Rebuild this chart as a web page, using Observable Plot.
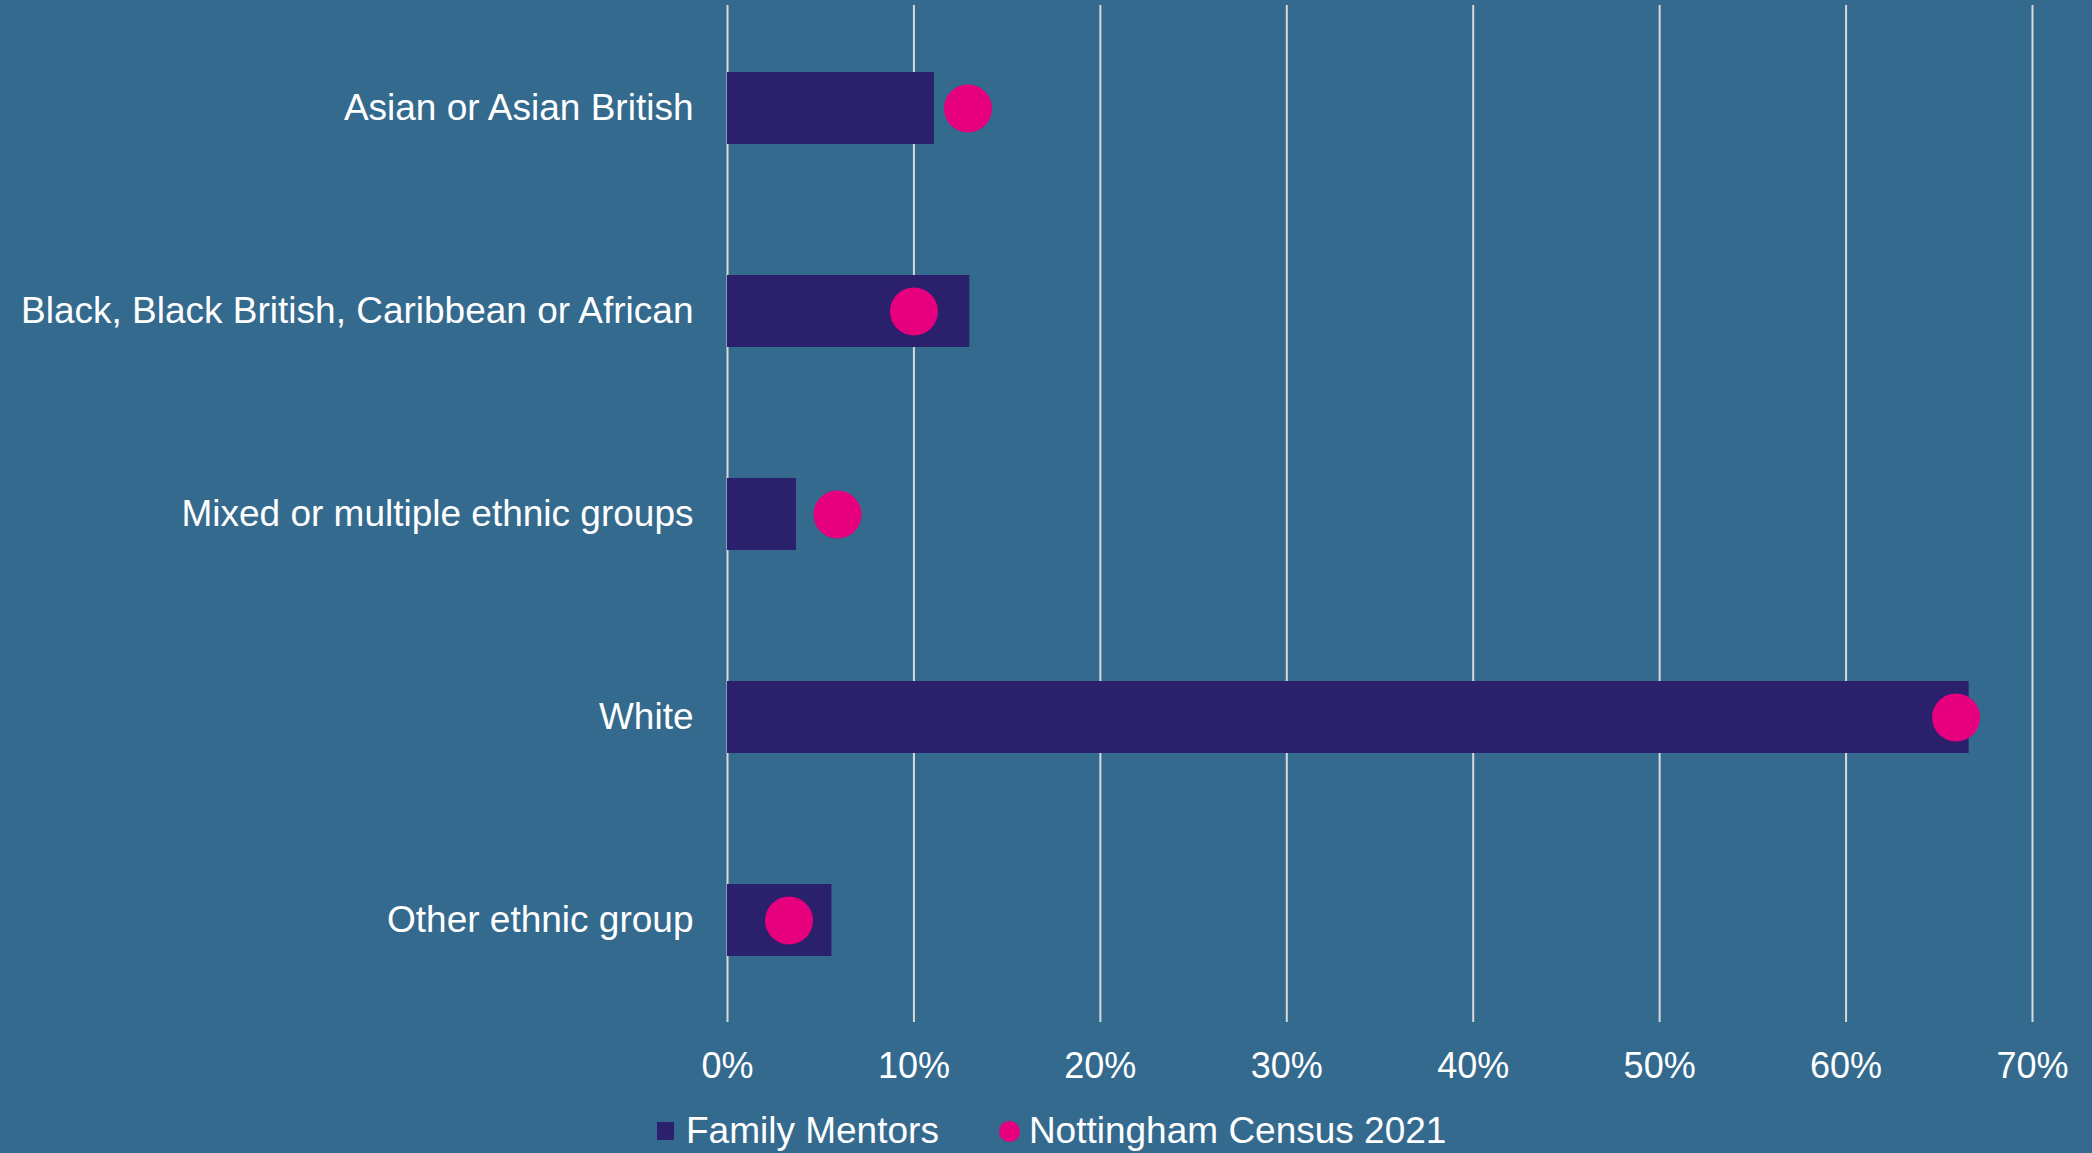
<!DOCTYPE html>
<html>
<head>
<meta charset="utf-8">
<script src="https://cdn.jsdelivr.net/npm/d3@7"></script>
<script src="https://cdn.jsdelivr.net/npm/@observablehq/plot@0.6"></script>
<style>
  html, body { margin: 0; padding: 0; background: #356A8F; }
  body { width: 2092px; height: 1153px; overflow: hidden; font-family: "Liberation Sans", Arial, sans-serif; color: #fff; }
  #chart svg { display: block; }
  .legend { display: flex; align-items: center; height: 44px; margin-top: 14px; padding-left: 657px; font-size: 37px; line-height: 44px; }
  .legend .item { display: flex; align-items: center; }
  .sw-bar { width: 17px; height: 18px; background: #2A206C; margin-right: 12px; }
  .sw-dot { width: 21px; height: 21px; border-radius: 50%; background: #E6007E; margin-right: 9px; margin-left: 60px; }
</style>
</head>
<body>
<div id="chart"></div>
<div class="legend">
  <div class="item"><span class="sw-bar"></span><span>Family Mentors</span></div>
  <div class="item"><span class="sw-dot"></span><span>Nottingham Census 2021</span></div>
</div>
<script>
const categories = [
  "Asian or Asian British",
  "Black, Black British, Caribbean or African",
  "Mixed or multiple ethnic groups",
  "White",
  "Other ethnic group"
];
const familyMentors = [11.1, 13.0, 3.7, 66.6, 5.6];
const census2021 = [12.9, 10.0, 5.9, 65.9, 3.3];
const xTicks = [0, 10, 20, 30, 40, 50, 60, 70];

const barData = categories.map((c, i) => ({category: c, value: familyMentors[i]}));
const dotData = categories.map((c, i) => ({category: c, value: census2021[i]}));

const chart = Plot.plot({
  width: 2092,
  height: 1095,
  marginLeft: 727,
  marginRight: 60,
  marginTop: 5,
  marginBottom: 73,
  style: {
    background: "#356A8F",
    color: "#ffffff",
    fontFamily: "'Liberation Sans', Arial, sans-serif",
    overflow: "visible"
  },
  x: {domain: [0, 70]},
  y: {domain: categories, paddingInner: 0.646, paddingOuter: 0.323},
  marks: [
    Plot.gridX(xTicks, {stroke: "#D9D9D9", strokeOpacity: 1, strokeWidth: 2}),
    Plot.barX(barData, {x: "value", y: "category", fill: "#2A206C"}),
    Plot.dot(dotData, {x: "value", y: "category", r: 24, fill: "#E6007E", stroke: "none"}),
    Plot.axisX(xTicks, {tickSize: 0, tickPadding: 30, tickFormat: d => d + "%", fontSize: 36, fill: "#ffffff", label: null}),
    Plot.axisY({tickSize: 0, tickPadding: 34, fontSize: 37, fill: "#ffffff", label: null})
  ]
});
document.getElementById("chart").appendChild(chart);
</script>
</body>
</html>
